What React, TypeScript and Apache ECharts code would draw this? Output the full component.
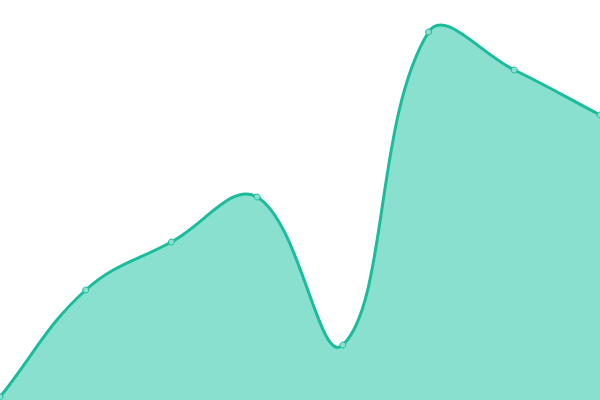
import React, { useEffect, useRef } from 'react';
import * as echarts from 'echarts';

const categories = ['A', 'B', 'C', 'D', 'E', 'F', 'G', 'H'];
const values = [3, 110, 158, 203, 55, 368, 330, 285];

const LINE_COLOR = '#1abc9c';
const FILL_COLOR = '#89e0cf';
const TENSION = 0.4;

type Pt = { x: number; y: number };

// cardinal-style control points (tension spline) so the curve overshoots at peaks
function controlPoints(prev: Pt, cur: Pt, next: Pt, t: number) {
  const d01 = Math.hypot(cur.x - prev.x, cur.y - prev.y);
  const d12 = Math.hypot(next.x - cur.x, next.y - cur.y);
  let s01 = d01 / (d01 + d12);
  let s12 = d12 / (d01 + d12);
  if (isNaN(s01)) s01 = 0;
  if (isNaN(s12)) s12 = 0;
  const fa = t * s01;
  const fb = t * s12;
  return {
    before: { x: cur.x - fa * (next.x - prev.x), y: cur.y - fa * (next.y - prev.y) },
    after: { x: cur.x + fb * (next.x - prev.x), y: cur.y + fb * (next.y - prev.y) },
  };
}

const App: React.FC = () => {
  const chartRef = useRef<HTMLDivElement | null>(null);

  useEffect(() => {
    if (!chartRef.current) return;
    const myChart = echarts.init(chartRef.current, undefined, { renderer: 'svg' });

    const renderCurve = (params: any, api: any) => {
      if (params.dataIndex !== 0) return null;
      const pts: Pt[] = values.map((v, i) => {
        const c = api.coord([i, v]);
        return { x: c[0], y: c[1] };
      });
      const base = api.coord([0, 0])[1];
      const cs = params.coordSys;
      const clampPt = (p: Pt) => ({
        x: Math.min(Math.max(p.x, cs.x), cs.x + cs.width),
        y: Math.min(Math.max(p.y, cs.y), cs.y + cs.height),
      });
      const cps = pts.map((p, i) =>
        controlPoints(pts[i - 1] || p, p, pts[i + 1] || p, TENSION)
      );
      let d = `M ${pts[0].x} ${pts[0].y}`;
      for (let i = 0; i < pts.length - 1; i++) {
        const a = clampPt(cps[i].after);
        const b = clampPt(cps[i + 1].before);
        const p = pts[i + 1];
        d += ` C ${a.x} ${a.y} ${b.x} ${b.y} ${p.x} ${p.y}`;
      }
      const last = pts[pts.length - 1];
      const area = `${d} L ${last.x} ${base} L ${pts[0].x} ${base} Z`;
      return {
        type: 'group',
        children: [
          {
            type: 'path',
            shape: { pathData: area },
            style: { fill: FILL_COLOR, stroke: 'none' },
          },
          {
            type: 'path',
            shape: { pathData: d },
            style: { fill: 'none', stroke: LINE_COLOR, lineWidth: 3 },
          },
        ],
      };
    };

    myChart.setOption({
      animation: false,
      grid: { left: 0, right: 0, top: 0, bottom: 0 },
      xAxis: { type: 'category', data: categories, boundaryGap: false, show: false },
      yAxis: { type: 'value', min: 0, max: 400, show: false },
      series: [
        {
          type: 'custom',
          data: values,
          renderItem: renderCurve,
          z: 1,
        },
        {
          type: 'scatter',
          data: values,
          symbol: 'circle',
          symbolSize: 6,
          itemStyle: { color: FILL_COLOR, borderColor: LINE_COLOR, borderWidth: 1, opacity: 1 },
          z: 3,
        },
      ],
    });
    return () => {
      myChart.dispose();
    };
  }, []);

  return (
    <div
      ref={chartRef}
      style={{ position: 'fixed', left: 0, top: 0, width: '600px', height: '400px' }}
    />
  );
};

export default App;
